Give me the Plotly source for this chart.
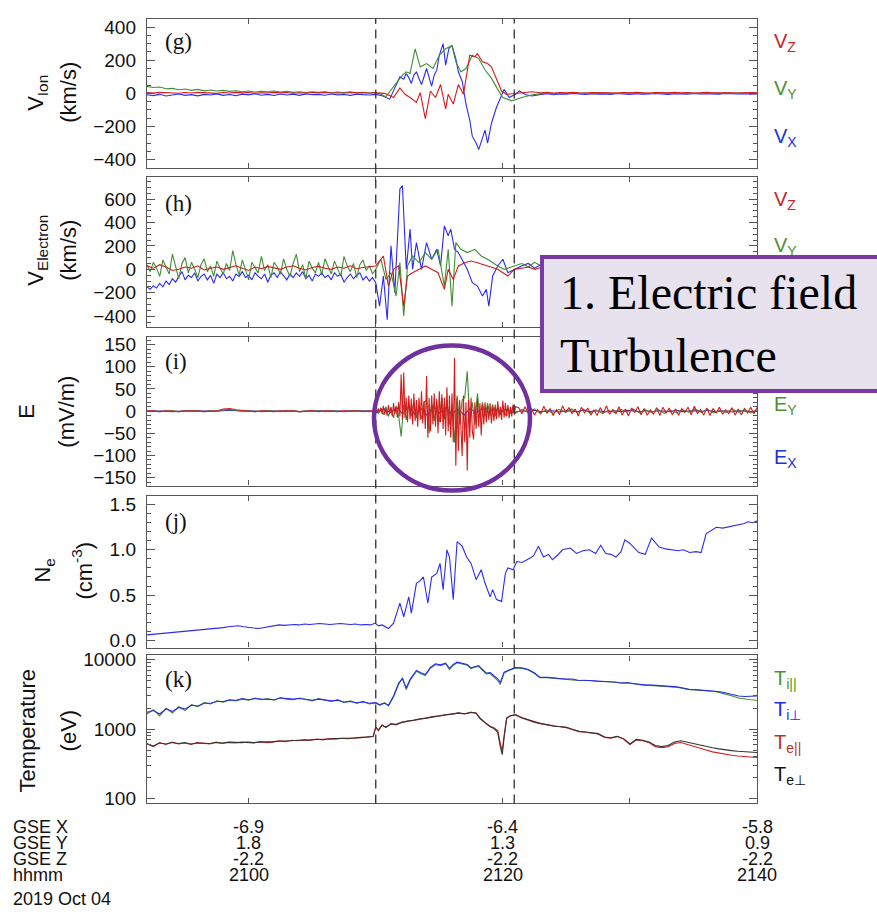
import numpy as np
import plotly.graph_objects as go

W, H = 877, 921
def X(px): return px / W
def Y(py): return 1 - py / H
def seg(t0, t1, vals): return list(np.linspace(t0, t1, len(vals)))

# ---------------- time axis (minutes after 21:00 UT) ----------------
t_start, t_end = -8, 40
boundary_times = [10.0, 20.9]
tick_minutes = [0, 20, 40]
gse_x = ["-6.9", "-6.4", "-5.8"]
gse_y = ["1.8", "1.3", "0.9"]
gse_z = ["-2.2", "-2.2", "-2.2"]
hhmm = ["2100", "2120", "2140"]

# ---------------- (g) ion velocity ----------------
vion_x_pre = [-8,-14,-6,-16,-10,-4,-12,-8,-15,-6,-10,-3,-12,-7,-14,-5,-9,-2,-11,-6,-13,-4,-10,-5,-12,-3,-8,-6,-11,-4,-9,-7,-12,-5,-8,-10]
vion_y_pre = [42,35,38,28,30,22,26,18,24,15,20,14,18,12,16,10,14,8,12,10,14,8,12,6,10,5,9,6,10,4,8,5,9,3,6,2]
vion_z_pre = [5,2,6,3,4,1,5,2,6,3,4,0,5,2,6,3,5,1,4,2,6,3,5,1,4,2,5,3,6,2,4,1,5,3,4,2]
vion_x_act_t = [10.0,10.5,11.1,11.6,11.9,12.2,12.4,12.6,12.8,13.0,13.2,13.4,13.6,13.8,14.0,14.2,14.4,14.6,14.8,15.0,15.3,15.5,15.75,16.0,16.3,16.5,16.8,17.1,17.4,17.6,17.9,18.1,18.4,18.6,18.8,19.1,19.5,19.9,20.1,20.5,21.0,21.3,21.8,22.3,22.9]
vion_x_act = [-6,-15,-35,53,100,85,120,95,60,110,130,90,53,100,150,95,43,110,140,230,300,170,270,290,210,130,73,-65,-163,-260,-300,-340,-260,-222,-300,-182,-84,-6,24,-25,-5,14,-8,-16,-6]
vion_y_act_t = [10.0,10.4,10.8,11.2,11.6,12.1,12.4,12.7,13.1,13.5,14.0,14.5,15.0,15.5,16.0,16.3,16.7,17.1,17.6,18.1,18.6,19.1,19.6,20.0,20.7,21.5,22.5]
vion_y_act = [5,-5,-20,20,60,110,130,120,269,160,180,150,230,270,288,190,130,150,230,210,141,92,24,-25,-45,-25,-6]
vion_z_act_t = [10.0,10.7,11.4,11.9,12.3,12.7,13.2,13.5,13.9,14.3,14.7,15.1,15.5,15.7,16.1,16.5,16.9,17.1,17.4,17.8,18.0,18.4,18.8,19.1,19.5,19.9,20.3,21.3,22.3]
vion_z_act = [3,0,-25,33,-6,-25,-55,4,-153,14,-25,53,-94,-6,-65,53,-6,100,230,220,239,190,180,160,82,14,-6,4,10]
vion_y_post = [-4,2,-2,3,-1,4,0,2,-3,1,3,-2,2,0,4,-1,2,1,-2,3,0,2,-1,3,1,0,2,-2,1,3,0,2,1,-1,2]
vion_z_post = [4,6,2,5,3,7,4,2,5,6,3,4,2,5,3,6,4,2,5,3,4,6,3,5,2,4,6,3,4,5,3,2,4,5,3]
vion_x_post = [-6,-2,-8,-3,-5,0,-4,-7,-2,-5,-3,-6,-1,-4,-6,-2,-5,-3,-1,-4,-6,-2,-3,-5,-1,-4,-2,-3,-5,-1,-3,-4,-2,-5,-3]

# ---------------- (h) electron velocity ----------------
vele_x_pre = [-150,-170,-140,-160,-120,-150,-100,-130,-80,-110,-60,-20,-90,-50,-70,-30,-100,-60,-40,-90,-50,-120,-40,-70,-30,-80,-60,-100,-40,-60,-20,-70,-50,-90,-30,-60,-80,-40,-110,-50,-30,-70,-20,-60,-90,-40,-70,-30,-60,-20,-80,-50,-100,-40,-60,-30,-70,-50,-90,-30,-60,-40,-110,-70,-40,-80,-50,-30,-90,-60,-100,-70]
vele_y_pre = [40,-20,60,10,-60,80,20,-40,130,30,-80,50,100,-30,60,0,-70,40,90,-20,30,-60,70,10,-40,50,-10,160,40,-50,80,0,-90,60,20,-30,110,-10,40,-70,60,20,-40,90,0,-60,50,130,-20,40,-80,70,10,-30,60,-50,90,20,-40,70,0,-60,110,30,-20,50,-70,40,80,-10,30,-40]
vele_z_pre = [30,10,40,20,-10,0,20,10,30,-5,10,20,0,15,30,10,-10,20,5,25,10,0,20,30,10,-5,15,25,10,0,20,10,30,5,15,20]
vele_x_act_t = [10.0,10.3,10.6,10.9,11.2,11.5,11.9,12.1,12.4,12.7,12.9,13.2,13.6,14.0,14.4,14.8,15.1,15.4,15.7,15.9,16.2,16.5,16.8,17.2,17.6,18.0,18.4,18.7,18.9,19.2,19.6,20.0,20.4,20.9]
vele_x_act = [-114,-314,-57,-430,200,-200,686,714,0,343,0,228,0,228,86,171,29,371,286,343,171,143,86,0,-114,-143,-228,-171,-314,-57,29,86,-29,0]
vele_y_act_t = [10.0,10.4,10.8,11.2,11.6,11.9,12.2,12.5,12.9,13.4,13.9,14.4,14.9,15.4,15.7,16.0,16.3,16.7,17.2,17.8,18.3,18.8,19.6,20.1,20.9]
vele_y_act = [0,86,-86,-29,-228,57,-400,29,114,57,143,86,171,-143,171,-314,228,171,143,171,114,86,29,0,29]
vele_z_act_t = [10.0,10.6,11.0,11.4,11.8,12.2,12.5,12.9,13.4,13.9,14.4,14.9,15.4,15.7,16.1,16.5,17.0,17.5,18.0,18.8,19.6,20.4,20.9]
vele_z_act = [29,114,-143,0,29,-314,-57,-29,0,29,0,-29,-171,0,-86,29,57,71,57,29,0,-57,0]
vele_x_post = [30,50,10,40,20,60,0,30,50,10,40,20,30,0,40,20,50,10,30,40,0,20,50,30,10,40,20,30,0,40,20,10,30,50,20,0,30,20]
vele_y_post = [50,20,60,30,70,10,40,60,20,50,30,70,10,40,60,30,50,20,40,60,10,50,30,40,20,60,30,50,10,40,30,60,20,40,50,30,20,40]
vele_z_post = [10,20,0,15,5,20,10,0,15,25,5,10,20,0,10,15,5,20,10,0,15,5,10,20,0,10,15,5,20,10,0,15,5,10,20,0,10,15]

# ---------------- (i) electric field ----------------
e_z_pre = [0,1,-1,1,0,-1,1,0,1,-1,0,1,5,6,3,1,0,-1,1,0,-1,1,0,1,-1,0,1,-1,1,0,-1,1,0,1,-1,1,0]
e_y_pre = [1,0,-1,0,1,-1,0,1,0,-1,1,0,3,4,2,0,1,-1,0,1,0,-1,1,0,-1,0,1,0,-1,1,0,-1,0,1,0,-1,0]
e_x_pre = [0,0,1,0,-1,0,0,1,0,0,-1,0,1,2,1,0,0,0,-1,0,0,1,0,0,-1,0,0,1,0,0,-1,0,0,1,0,0,0]
e_z_act = [2,-4,6,-3,8,-6,12,-8,5,-10,14,-5,9,-12,18,-7,10,-15,20,
           -12,83,-20,87,-15,30,
           -25,35,-18,28,-30,40,-22,25,-35,30,-20,45,-28,22,-40,
           79,-60,30,-45,35,
           -30,40,-35,28,-50,45,-25,38,-40,30,-55,
           54,
           -45,35,-60,40,-70,
           120,
           -123,30,-90,25,-50,
           -101,
           35,-70,20,
           -134,
           25,-60,30,-45,
           -64,
           20,-40,28,-35,18,
           -55,
           15,-30,20,-25,12,-20,18,-28,10,-22,15,-18,22,-15,10,-20,
           24,
           -15,18,-12,14,-16,10,-12,15,-8,10]
e_y_act = [3,-5,6,-8,10,-12,8,-15,12,-10,
           -57,15,-20,18,-12,22,-15,10,-18,20,
           25,-50,18,-22,
           20,-25,30,-18,25,-30,15,
           -71,35,-30,25,
           30,90,-25,20,-30,
           40,-15,20,-12,18,-10,15,-12,10,-8,12,-10,8,-6,10,-5]
e_x_act = [0,5,-4,8,-6,10,-8,6,-10,12,-5,8,-7,5,-9,6,-4,7,-3,5,-2,4,-3]
e_z_post = [8,-6,10,-4,7,-9,3,-7,11,-5,6,-10,4,-8,12,-3,8,-6,5,-11,
            9,-4,7,-9,3,-10,8,-5,12,-7,4,-6,10,-9,5,-11,7,-3,10,-8,
            6,-9,3,-7,8,-10,9,-4,7,-8,5,-9,6,-3,9,-8,11,-5,4,-9,
            7,-10,6,-4,9,-7,3,-6,8,-9,5,-8,6,-4,9,-6,8]
e_y_post = [4,-3,5,-4,3,-5,4,-2,5,-3,4,-4,3,-5,2,-3,4,-2,5,-4,3,-3,4,-5,2,-4,3,-2,5,-3,4,-4,2,-3,4,-2,3,-4,2]
e_x_post = [1,-1,2,-1,0,1,-2,1,0,-1,2,-1,1,0,-2,1,-1,2,0,-1,1,-2,1,0,-1,2,-1,0,1,-1,2,-1,0,1,-2,1,0,-1,1]

# ---------------- (j) electron density ----------------
ne_pre = [0.06,0.065,0.07,0.075,0.08,0.085,0.09,0.1,0.1,0.11,0.115,0.12,0.125,0.13,0.135,0.14,0.15,0.155,0.16,0.15,0.14,0.135,0.13,0.14,0.15,0.16,0.17,0.165,0.17,0.175,0.17,0.18,0.175,0.18,0.185,0.18,0.175,0.18,0.185,0.18,0.175,0.18,0.17,0.175,0.17]
ne_t = [9.96,10.2,10.5,11.0,11.4,11.9,12.2,12.6,12.8,13.2,13.5,13.75,14.1,14.4,14.8,15.06,15.3,15.6,15.8,16.1,16.4,16.8,17.15,17.5,17.9,18.3,18.6,19.0,19.2,19.5,19.9,20.2,20.4,20.8,21.1,21.5,21.9,22.4,22.8,23.2,23.6,23.9,24.3,24.7,25.3,25.8,26.3,26.8,27.3,27.7,28.1,28.5,28.9,29.3,29.6,30.0,30.7,31.2,31.7,32.3,32.8,33.3,33.8,34.2,34.7,35.2,35.6,36.0,36.4,36.8,37.3,37.9,38.5,39.0,39.3,39.7,40.0]
ne = [0.19,0.16,0.17,0.13,0.19,0.41,0.26,0.48,0.30,0.63,0.66,0.70,0.41,0.70,0.74,0.85,0.56,1.00,0.92,0.45,1.09,1.04,0.92,0.85,0.67,0.78,0.63,0.48,0.56,0.45,0.43,0.74,0.80,0.78,0.87,0.86,0.89,0.93,1.04,0.92,0.95,0.89,0.94,1.00,1.02,0.96,0.99,1.00,0.96,1.05,0.96,0.95,0.92,0.98,1.11,1.07,0.97,0.95,1.13,1.03,1.01,1.00,0.99,1.00,0.97,0.98,0.97,1.18,1.22,1.25,1.24,1.26,1.28,1.29,1.31,1.30,1.32]

# ---------------- (k) temperatures ----------------
ti_par_pre = [1650,1900,1550,2000,1700,2100,1850,2250,2100,2400,2300,2550,2450,2650,2550,2700,2600,2800,2650,2750,2600,2850,2700,2650,2800,2700,2550,2750,2600,2500,2650,2400,2550,2350,2500,2300,2400]
ti_perp_pre = [1750,1850,1650,1950,1800,2050,1950,2200,2150,2350,2350,2500,2500,2600,2600,2750,2650,2750,2700,2700,2650,2800,2750,2700,2750,2650,2600,2700,2650,2550,2600,2450,2500,2400,2450,2350,2400]
ti_act_t = [10.3,10.7,11.0,11.4,11.8,12.1,12.4,12.7,13.2,13.6,13.9,14.3,14.7,15.1,15.5,15.8,16.1,16.4,16.8,17.2,17.5,17.8,18.1,18.4,18.7,19.0,19.3,19.6,19.8,20.1,20.5,21.0,21.5,22.0,22.5,22.9]
ti_par_act = [2200,2400,2150,2900,4400,5500,3700,5000,6800,6200,5900,7500,8500,8200,8700,7200,8300,9000,8600,8300,7400,7800,8000,7000,6200,6300,5600,5000,4400,6400,7000,7600,7500,7100,6300,5500]
ti_perp_act = [2250,2350,2200,3000,4600,5300,3900,5200,7000,6400,6100,7700,8700,8400,8900,7500,8500,9200,8800,8500,7600,8000,8200,7200,6400,6500,5800,5300,4700,6600,7100,7700,7600,7200,6400,5600]
ti_par_post = [5500,5400,5300,5250,5200,5000,5050,4950,4900,4850,4800,4700,4600,4650,4450,4350,4300,4250,4200,4150,4100,4000,3850,3700,3650,3600,3550,3500,3350,3200,3000,2800,2700,2650,2600]
ti_perp_post = [5550,5400,5350,5250,5250,5050,5050,5000,4900,4900,4800,4750,4600,4650,4500,4400,4300,4300,4250,4200,4100,4050,3900,3750,3700,3650,3600,3550,3450,3300,3150,3000,2950,2950,3000]
te_par_pre = [620,560,640,600,650,610,630,600,640,620,610,650,620,640,630,650,640,630,660,640,650,680,660,690,680,700,690,720,700,730,720,740,730,750,760,770,790]
te_perp_pre = [610,570,630,610,640,620,640,610,630,630,620,640,630,650,640,640,650,640,650,650,660,670,670,680,690,690,700,710,710,720,730,730,740,745,755,765,780]
te_act_t = [10.0,10.2,10.5,10.8,11.2,11.6,12.0,12.5,13.0,13.5,14.0,14.5,15.0,15.5,16.0,16.5,17.0,17.5,17.9,18.2,18.6,19.0,19.3,19.6,19.8,19.95,20.1,20.3,20.6,21.0,21.5,22.0,22.5,23.0]
te_par_act = [1080,950,1150,1050,1200,1150,1250,1300,1350,1400,1450,1500,1550,1600,1650,1700,1650,1750,1700,1450,1250,1100,1050,950,620,480,800,1450,1550,1600,1450,1350,1250,1200]
te_perp_act = [1060,970,1130,1070,1180,1170,1240,1310,1340,1410,1440,1510,1540,1610,1640,1710,1660,1740,1690,1420,1230,1080,1020,900,560,430,760,1420,1560,1620,1460,1360,1260,1200]
te_par_post = [1150,1100,1080,1050,980,920,900,880,850,760,740,780,720,600,700,680,640,560,540,560,620,640,600,560,520,500,470,450,430,420,410,400,400,390]
te_perp_post = [1150,1100,1090,1060,990,930,910,890,860,770,750,790,730,610,710,690,650,580,560,580,650,680,650,610,580,560,540,520,500,490,480,470,470,460]

# ---------------- styling ----------------
BLUE, GREEN, RED = "#2b2bf0", "#3f8f35", "#d41c1c"
LBL_RED, LBL_GREEN, LBL_BLUE = "#c8232c", "#4e8f2f", "#2030e0"
FONT = "Liberation Sans, Arial, sans-serif"
SERIF = "Liberation Serif, Times New Roman, serif"

panels_px = [(13, 164), (173, 325), (335, 486), (496, 650), (658, 808)]

fig = go.Figure()

def add(i, xs, ys, color, width=1.1):
    ax = "" if i == 1 else str(i)
    fig.add_trace(go.Scatter(x=xs, y=ys, mode="lines", line=dict(color=color, width=width),
                             xaxis="x" + ax, yaxis="y" + ax, showlegend=False, hoverinfo="skip"))

def series(pre, pre_rng, act_t, act, post, post_rng):
    xs = seg(*pre_rng, pre) + list(act_t) + seg(*post_rng, post)
    ys = list(pre) + list(act) + list(post)
    return xs, ys

# (g)
add(1, *series(vion_x_pre, (-8, 9.5), vion_x_act_t, vion_x_act, vion_x_post, (23, 40)), BLUE)
add(1, *series(vion_y_pre, (-8, 9.5), vion_y_act_t, vion_y_act, vion_y_post, (23, 40)), GREEN)
add(1, *series(vion_z_pre, (-8, 9.5), vion_z_act_t, vion_z_act, vion_z_post, (23, 40)), RED)
# (h)
add(2, *series(vele_x_pre, (-8, 9.75), vele_x_act_t, vele_x_act, vele_x_post, (21.5, 40)), BLUE)
add(2, *series(vele_y_pre, (-8, 9.75), vele_y_act_t, vele_y_act, vele_y_post, (21.5, 40)), GREEN)
add(2, *series(vele_z_pre, (-8, 9.5), vele_z_act_t, vele_z_act, vele_z_post, (21.5, 40)), RED)
# (i)
add(3, *series(e_x_pre, (-8, 10), seg(10.2, 20.8, e_x_act), e_x_act, e_x_post, (21.5, 40)), BLUE)
add(3, *series(e_y_pre, (-8, 10), seg(10.0, 21.0, e_y_act), e_y_act, e_y_post, (21.5, 40)), GREEN)
add(3, *series(e_z_pre, (-8, 10), seg(10.0, 21.0, e_z_act), e_z_act, e_z_post, (21.25, 40)), RED)
# (j)
add(4, seg(-8, 9.6, ne_pre) + ne_t, ne_pre + ne, BLUE)
# (k)
add(5, *series(ti_par_pre, (-8, 10), ti_act_t, ti_par_act, ti_par_post, (23.5, 40)), GREEN)
add(5, *series(ti_perp_pre, (-8, 10), ti_act_t, ti_perp_act, ti_perp_post, (23.5, 40)), BLUE)
add(5, *series(te_par_pre, (-8, 9.8), te_act_t, te_par_act, te_par_post, (23.5, 40)), RED)
add(5, *series(te_perp_pre, (-8, 9.8), te_act_t, te_perp_act, te_perp_post, (23.5, 40)), "#333333")

axis_common = dict(showline=True, linecolor="#555", linewidth=1.4, mirror="ticks", ticks="inside",
                   tickcolor="#555", showgrid=False, zeroline=False)
yspecs = [
    dict(range=[-450, 450], tick0=0, dtick=200, minor=dict(ticks="inside", ticklen=4, dtick=50, tickcolor="#555")),
    dict(range=[-490, 790], tick0=0, dtick=200, minor=dict(ticks="inside", ticklen=4, dtick=50, tickcolor="#555")),
    dict(range=[-168, 168], tick0=0, dtick=50, minor=dict(ticks="inside", ticklen=4, dtick=10, tickcolor="#555")),
    dict(range=[-0.08, 1.6], tick0=0, dtick=0.5, tickformat=".1f",
         minor=dict(ticks="inside", ticklen=4, dtick=0.1, tickcolor="#555")),
    dict(type="log", range=[1.93, 4.06], tickvals=[100, 1000, 10000], ticktext=["100", "1000", "10000"],
         minor=dict(ticks="inside", ticklen=4, tickcolor="#555",
                    tickvals=[200, 300, 400, 500, 600, 700, 800, 900, 2000, 3000, 4000, 5000, 6000, 7000, 8000, 9000])),
]
layout = dict(width=W, height=H, margin=dict(l=0, r=0, t=0, b=0), plot_bgcolor="white", paper_bgcolor="white",
              font=dict(family=FONT, size=19, color="#111"), showlegend=False)
for i, (top, bot) in enumerate(panels_px, start=1):
    ax = "" if i == 1 else str(i)
    layout["xaxis" + ax] = dict(axis_common, domain=[X(147), X(757)], range=[t_start, t_end], tick0=0, dtick=10,
                                ticklen=5, showticklabels=False, anchor="y" + ax,
                                **({} if i == 1 else {"matches": "x"}))
    layout["yaxis" + ax] = dict(axis_common, domain=[Y(bot), Y(top)], anchor="x" + ax, ticklen=8,
                                ticklabelstandoff=6, tickfont=dict(size=19), **yspecs[i - 1])
fig.update_layout(**layout)

ann = []
def text(x, y, s, size=19, color="#111", angle=0, xanchor="center", family=FONT):
    ann.append(dict(x=x, y=y, xref="paper", yref="paper", text=s, showarrow=False, textangle=angle,
                    font=dict(size=size, color=color, family=family), xanchor=xanchor, yanchor="middle"))

# y titles
ytitles = [("V<sub>Ion</sub>", "(km/s)", 37, 69, 88),
           ("V<sub>Electron</sub>", "(km/s)", 37, 69, 248),
           ("E", "(mV/m)", 27, 67, 411),
           ("N<sub>e</sub>", "(cm<sup>-3</sup>)", 44, 82, 572),
           ("Temperature", "(eV)", 27, 68, 734)]
for name, unit, xn, xu, yc in ytitles:
    text(X(xn), Y(yc), name, size=22, angle=-90)
    text(X(xu), Y(yc), unit, size=22, angle=-90)

# panel letters
for lab, yc in zip(["(g)", "(h)", "(i)", "(j)", "(k)"], [36, 200, 360, 522, 682]):
    text(X(163), Y(yc), lab, size=23, family=SERIF, xanchor="left")

# right-side component labels
side = [("V<sub>Z</sub>", LBL_RED, 37), ("V<sub>Y</sub>", LBL_GREEN, 85), ("V<sub>X</sub>", LBL_BLUE, 133),
        ("V<sub>Z</sub>", LBL_RED, 197), ("V<sub>Y</sub>", LBL_GREEN, 244),
        ("E<sub>Y</sub>", LBL_GREEN, 405), ("E<sub>X</sub>", LBL_BLUE, 458),
        ("T<sub>i||</sub>", "#3f9a2a", 682), ("T<sub>i⊥</sub>", "#1a2ff0", 714),
        ("T<sub>e||</sub>", "#c0321e", 747), ("T<sub>e⊥</sub>", "#111", 780)]
for s, c, yc in side:
    text(X(772), Y(yc), s, size=20, color=c, xanchor="left")

# bottom ephemeris rows
row_y = [832, 848, 864, 880]
for rowname, vals, yc in zip(["GSE X", "GSE Y", "GSE Z", "hhmm"], [gse_x, gse_y, gse_z, hhmm], row_y):
    text(X(11), Y(yc), rowname, size=18, xanchor="left")
    for tm, v in zip(tick_minutes, vals):
        ann.append(dict(x=tm, y=Y(yc), xref="x5", yref="paper", text=v, showarrow=False,
                        font=dict(size=18, color="#111", family=FONT), xanchor="center", yanchor="middle"))
text(X(11), Y(905), "2019 Oct 04", size=18, xanchor="left")

# annotation box
ann.append(dict(x=X(540), y=Y(252), xref="paper", yref="paper", xanchor="left", yanchor="top",
                text="&nbsp;1. Electric field<br>&nbsp;Turbulence", showarrow=False, align="left",
                font=dict(size=48, color="black", family=SERIF), width=345, height=122,
                bgcolor="#e8e2ef", bordercolor="#7a3aa6", borderwidth=4, borderpad=4))
fig.update_layout(annotations=ann)

shapes = []
for bt in boundary_times:
    shapes.append(dict(type="line", xref="x", yref="paper", x0=bt, x1=bt, y0=Y(808), y1=Y(13),
                       line=dict(color="#333", width=1.3, dash="9px,6px"), layer="above"))
shapes.append(dict(type="circle", xref="paper", yref="paper", x0=X(374), x1=X(530), y0=Y(491), y1=Y(344),
                   line=dict(color="#7030a0", width=4.5), layer="above"))
fig.update_layout(shapes=shapes)

fig.write_html("out.html", config={"displayModeBar": False},
               post_script="document.body.style.margin='0';document.body.style.overflow='hidden';")
